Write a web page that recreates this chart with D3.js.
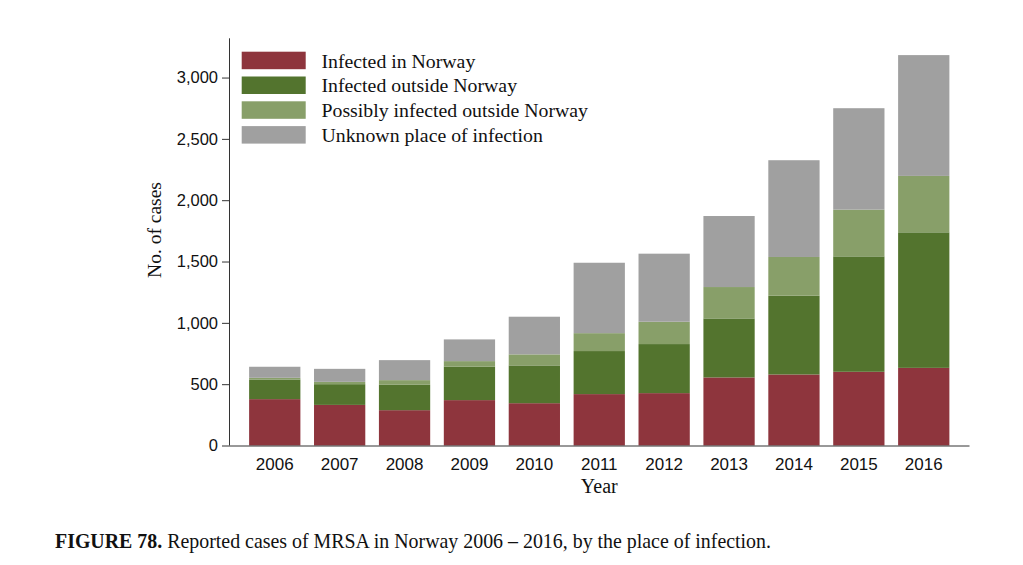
<!DOCTYPE html>
<html>
<head>
<meta charset="utf-8">
<script src="https://cdn.jsdelivr.net/npm/d3@7"></script>
<style>
  html, body { margin: 0; padding: 0; background: #fff; }
  svg { display: block; }
</style>
</head>
<body>
<svg id="chart" width="1023" height="565"></svg>
<script>
// ---- Data ----
const years = ["2006","2007","2008","2009","2010","2011","2012","2013","2014","2015","2016"];
const infectedInNorway       = [378, 331, 288, 370, 345, 419, 427, 555, 579, 601, 633];
const infectedOutsideNorway  = [160, 169, 207, 272, 308, 351, 400, 481, 642, 941, 1105];
const possiblyOutsideNorway  = [14, 19, 38, 46, 90, 146, 182, 256, 316, 381, 460];
const unknownPlace           = [90, 106, 163, 177, 307, 574, 555, 579, 789, 827, 985];
const seriesNames = ["Infected in Norway", "Infected outside Norway", "Possibly infected outside Norway", "Unknown place of infection"];
const seriesColors = ["#8e353d", "#53742e", "#889f69", "#a0a0a0"];
const yTicks = [0, 500, 1000, 1500, 2000, 2500, 3000];
const yMax = 3320;

(function () {
const keys = ["in", "out", "poss", "unk"];
const table = years.map((yr, i) => ({
  year: yr,
  in: infectedInNorway[i],
  out: infectedOutsideNorway[i],
  poss: possiblyOutsideNorway[i],
  unk: unknownPlace[i]
}));

const svg = d3.select("#chart");
const mLeft = 229, mRight = 969.5, mTop = 38.3, mBottom = 445.5;
const serif = "Liberation Serif, Times New Roman, serif";
const sans = "Liberation Sans, Arial, sans-serif";

const x = d3.scaleBand().domain(years).range([mLeft, mRight]).paddingInner(0.21).paddingOuter(0.31);
const y = d3.scaleLinear().domain([0, yMax]).range([mBottom, mTop]);
const color = d3.scaleOrdinal().domain(keys).range(seriesColors);

const stacked = d3.stack().keys(keys)(table);

svg.append("g").selectAll("g")
  .data(stacked).join("g")
  .attr("fill", d => color(d.key))
  .selectAll("rect")
  .data(d => d).join("rect")
  .attr("x", d => x(d.data.year))
  .attr("width", x.bandwidth())
  .attr("y", d => y(d[1]))
  .attr("height", d => y(d[0]) - y(d[1]));

// Y axis
const yAxis = svg.append("g")
  .attr("transform", `translate(${mLeft},0)`)
  .call(d3.axisLeft(y).tickValues(yTicks).tickSize(7).tickPadding(4).tickFormat(d3.format(",")));
yAxis.select(".domain").attr("d", `M0.5,${mBottom}V${mTop}`).attr("stroke", "#333");
yAxis.selectAll(".tick line").attr("stroke", "#333");
yAxis.selectAll(".tick text")
  .attr("font-family", sans)
  .attr("font-size", 16.5).attr("fill", "#111");

// X axis
const xAxis = svg.append("g")
  .attr("transform", `translate(0,${mBottom})`)
  .call(d3.axisBottom(x).tickSize(0).tickPadding(12));
xAxis.select(".domain").attr("d", `M${mLeft},0.5H${mRight}`).attr("stroke", "#333");
xAxis.selectAll(".tick text")
  .attr("font-family", sans)
  .attr("font-size", 17).attr("fill", "#111");

// Axis titles
svg.append("text")
  .attr("x", (mLeft + mRight) / 2).attr("y", 493)
  .attr("text-anchor", "middle")
  .attr("font-family", serif)
  .attr("font-size", 20).attr("fill", "#111")
  .text("Year");

svg.append("text")
  .attr("transform", `translate(160.5,230) rotate(-90)`)
  .attr("text-anchor", "middle")
  .attr("font-family", serif)
  .attr("font-size", 19.5).attr("fill", "#111")
  .text("No. of cases");

// Legend
const legend = svg.append("g");
seriesNames.forEach((name, i) => {
  const gy = 51.7 + i * 24.8;
  legend.append("rect")
    .attr("x", 241.7).attr("y", gy)
    .attr("width", 64).attr("height", 17.5)
    .attr("fill", seriesColors[i]);
  legend.append("text")
    .attr("x", 321.5).attr("y", gy + 15.8)
    .attr("font-family", serif)
    .attr("font-size", 19.8).attr("fill", "#111")
    .text(name);
});

// Caption
const cap = svg.append("text")
  .attr("x", 55).attr("y", 548)
  .attr("font-family", serif)
  .attr("font-size", 19.9).attr("fill", "#111");
cap.append("tspan").attr("font-weight", "bold").text("FIGURE 78.");
cap.append("tspan").text(" Reported cases of MRSA in Norway 2006 \u2013 2016, by the place of infection.");
})();
</script>
</body>
</html>
